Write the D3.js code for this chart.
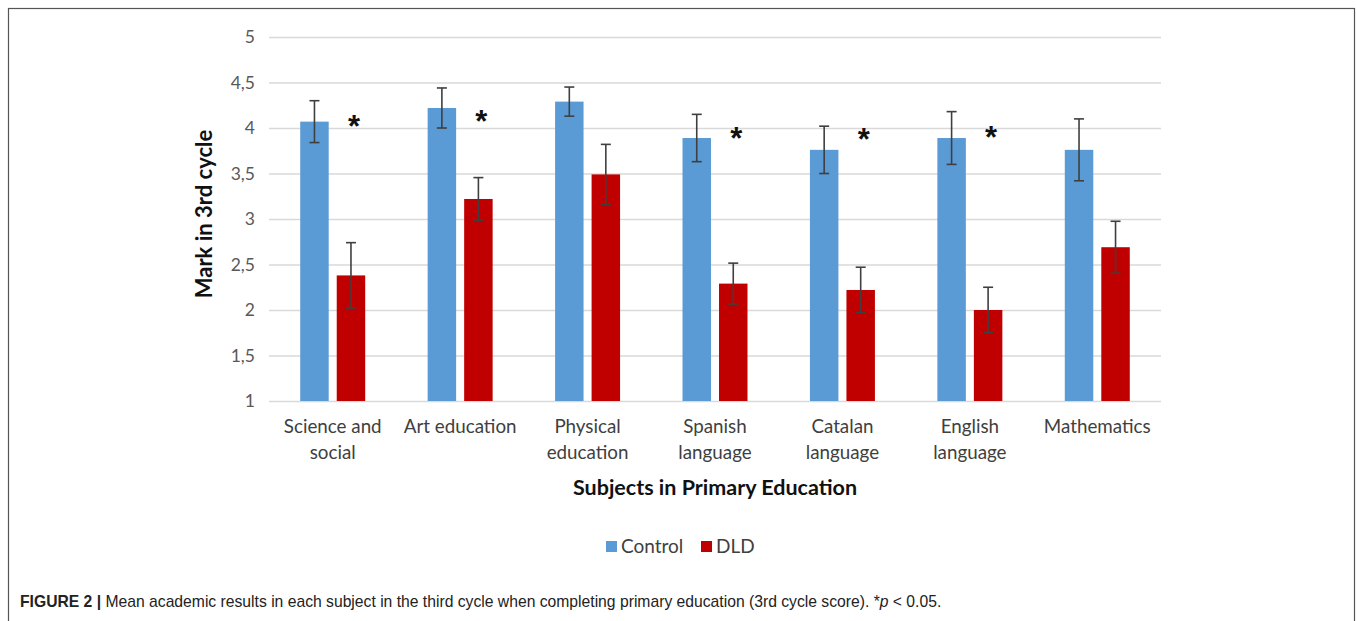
<!DOCTYPE html>
<html lang="en">
<head>
<meta charset="UTF-8">
<title>Figure 2</title>
<script src="https://cdnjs.cloudflare.com/ajax/libs/d3/7.9.0/d3.min.js"></script>
<style>
    body { margin: 0; background: #fff; }
    svg { display: block; }
</style>
</head>
<body>
<div id="chart"></div>
<script>
// data
const subjects = ["Science and social", "Art education", "Physical education", "Spanish language",
    "Catalan language", "English language", "Mathematics"];
const subjectLines = [["Science and", "social"], ["Art education"], ["Physical", "education"],
    ["Spanish", "language"], ["Catalan", "language"], ["English", "language"], ["Mathematics"]];
const groups = ["Control", "DLD"];
const controlMeans = [4.07, 4.22, 4.29, 3.89, 3.76, 3.89, 3.76];
const controlErr = [0.23, 0.22, 0.16, 0.26, 0.26, 0.29, 0.34];
const dldMeans = [2.38, 3.22, 3.49, 2.29, 2.22, 2.00, 2.69];
const dldErr = [0.36, 0.235, 0.33, 0.225, 0.25, 0.25, 0.285];
// asterisk (p < 0.05) and the height it sits at, in marks
const significant = [true, true, false, true, true, true, false];
const starLevel = [4.07, 4.12, null, 3.93, 3.92, 3.95, null];
const yTicks = [1, 1.5, 2, 2.5, 3, 3.5, 4, 4.5, 5];

const colors = { Control: "#5B9BD5", DLD: "#C00000" };

const W = 1357, H = 621;
const svg = d3.select("#chart").append("svg")
    .attr("width", W).attr("height", H);

// frame
svg.append("rect")
    .attr("x", 8.5).attr("y", 8.5)
    .attr("width", 1346).attr("height", 640)
    .attr("fill", "none").attr("stroke", "#555").attr("stroke-width", 1.2);

const x0 = d3.scaleBand().domain(subjects).range([269, 1161]).paddingInner(0);
const x1 = d3.scaleBand().domain(groups)
    .range([x0.bandwidth() * 0.245, x0.bandwidth() * 0.755])
    .paddingInner(0.22);
const y = d3.scaleLinear().domain([1, 5]).range([401, 37]);

// gridlines + y labels
const yAxis = svg.append("g")
    .attr("transform", "translate(269,0)")
    .call(d3.axisLeft(y).tickValues(yTicks).tickSize(-892).tickPadding(14)
        .tickFormat(d => String(d).replace(".", ",")));
yAxis.select(".domain").remove();
yAxis.selectAll(".tick line").attr("stroke", "#d9d9d9").attr("stroke-width", 1.5);
yAxis.selectAll(".tick text")
    .attr("fill", "#595959")
    .style("font-family", "Lato, 'Open Sans', sans-serif")
    .style("font-size", "17.5px");

const rows = subjects.map((s, i) => ({
    subject: s,
    vals: [
        { key: "Control", mean: controlMeans[i], err: controlErr[i] },
        { key: "DLD", mean: dldMeans[i], err: dldErr[i] }
    ]
}));

const grp = svg.selectAll(".grp").data(rows).enter().append("g")
    .attr("class", "grp")
    .attr("transform", d => `translate(${x0(d.subject)},0)`);

grp.selectAll("rect").data(d => d.vals).enter().append("rect")
    .attr("x", d => x1(d.key))
    .attr("y", d => y(d.mean))
    .attr("width", x1.bandwidth())
    .attr("height", d => y(1) - y(d.mean))
    .attr("fill", d => colors[d.key]);

// error bars
const eb = grp.selectAll(".eb").data(d => d.vals).enter().append("g")
    .attr("class", "eb")
    .attr("stroke", "#3f3f3f").attr("stroke-width", 1.6);
const cx = d => x1(d.key) + x1.bandwidth() / 2;
eb.append("line")
    .attr("x1", cx).attr("x2", cx)
    .attr("y1", d => y(d.mean + d.err)).attr("y2", d => y(d.mean - d.err));
eb.append("line")
    .attr("x1", d => cx(d) - 5).attr("x2", d => cx(d) + 5)
    .attr("y1", d => y(d.mean + d.err)).attr("y2", d => y(d.mean + d.err));
eb.append("line")
    .attr("x1", d => cx(d) - 5).attr("x2", d => cx(d) + 5)
    .attr("y1", d => y(d.mean - d.err)).attr("y2", d => y(d.mean - d.err));

// asterisks
svg.selectAll(".star").data(subjects.filter((s, i) => significant[i])).enter()
    .append("text")
    .attr("class", "star")
    .attr("x", s => x0(s) + x1("DLD") + x1.bandwidth() / 2 + 3)
    .attr("y", s => y(starLevel[subjects.indexOf(s)]) + 15)
    .attr("text-anchor", "middle")
    .style("font-family", "'Liberation Sans', Arial, sans-serif")
    .style("font-weight", "bold")
    .style("font-size", "31px")
    .attr("fill", "#111")
    .text("*");

// x labels
const xl = svg.selectAll(".xl").data(subjects).enter().append("text")
    .attr("class", "xl")
    .attr("x", s => x0(s) + x0.bandwidth() / 2)
    .attr("y", 433)
    .attr("text-anchor", "middle")
    .attr("fill", "#404040")
    .style("font-family", "Lato, 'Open Sans', sans-serif")
    .style("font-size", "18.8px");
xl.selectAll("tspan").data((s, i) => subjectLines[i]).enter().append("tspan")
    .attr("x", function () { return d3.select(this.parentNode).attr("x"); })
    .attr("dy", (d, j) => j === 0 ? 0 : 26)
    .text(d => d);

// axis titles
svg.append("text")
    .attr("x", 715).attr("y", 495)
    .attr("text-anchor", "middle")
    .style("font-family", "Lato, 'Open Sans', sans-serif")
    .style("font-weight", "bold").style("font-size", "21.5px")
    .attr("fill", "#111")
    .text("Subjects in Primary Education");

svg.append("text")
    .attr("transform", "translate(212,214) rotate(-90)")
    .attr("text-anchor", "middle")
    .style("font-family", "Lato, 'Open Sans', sans-serif")
    .style("font-weight", "bold").style("font-size", "22px")
    .attr("fill", "#111")
    .text("Mark in 3rd cycle");

// legend
const legendX = d3.scaleOrdinal().domain(groups).range([606, 701]);
const lg = svg.selectAll(".lg").data(groups).enter().append("g")
    .attr("class", "lg")
    .attr("transform", g => `translate(${legendX(g)},541)`);
lg.append("rect").attr("width", 11).attr("height", 11).attr("fill", g => colors[g]);
lg.append("text")
    .attr("x", 15).attr("y", 12)
    .attr("fill", "#404040")
    .style("font-family", "Lato, 'Open Sans', sans-serif")
    .style("font-size", "19px")
    .text(g => g);

// caption
const cap = svg.append("text")
    .attr("x", 20).attr("y", 607)
    .attr("fill", "#222")
    .style("font-family", "'Liberation Sans', Arial, sans-serif")
    .style("font-size", "15.7px");
cap.append("tspan").style("font-weight", "bold").text("FIGURE 2 | ");
cap.append("tspan").text("Mean academic results in each subject in the third cycle when completing primary education (3rd cycle score). *");
cap.append("tspan").style("font-style", "italic").text("p");
cap.append("tspan").text(" < 0.05.");
</script>
</body>
</html>
